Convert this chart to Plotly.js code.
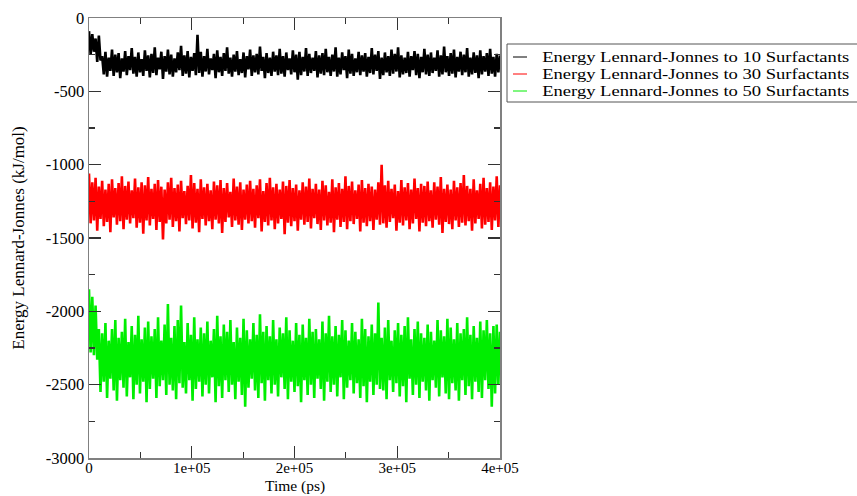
<!DOCTYPE html>
<html>
<head>
<meta charset="utf-8">
<script src="https://cdn.plot.ly/plotly-3.0.1.min.js"></script>
<style>
html,body{margin:0;padding:0;background:#fff;}
#chart{width:857px;height:496px;}
.annotation[data-index="0"] .annotation-text,
.annotation[data-index="1"] .annotation-text,
.annotation[data-index="2"] .annotation-text{transform:scaleX(1.24);transform-box:fill-box;transform-origin:0 50%;}
</style>
</head>
<body>
<div id="chart"></div>
<script>
// Sampling: time step of 1600 ps from 0 to 400000 ps
var timeStep = 1600;
var seriesNames = ["Energy Lennard-Jonnes to 10 Surfactants","Energy Lennard-Jonnes to 30 Surfactants","Energy Lennard-Jonnes to 50 Surfactants"];
var seriesColors = ["#000000","#ff0000","#00ee00"];
var xTickVals = [0,100000,200000,300000,400000];
var xTickText = ["0","1e+05","2e+05","3e+05","4e+05"];
var yTickVals = [0,-500,-1000,-1500,-2000,-2500,-3000];
var yTickText = ["0","-500","-1000","-1500","-2000","-2500","-3000"];
var xTitle = "Time (ps)";
var yTitle = "Energy Lennard-Jonnes (kJ/mol)";

var lj10 = [
-90,-250,-110,-230,-140,-300,-120,-290,
-260,-385,-230,-400,-270,-360,-215,-395,-250,-370,
-240,-410,-275,-365,-225,-390,-260,-355,-205,-380,
-265,-400,-235,-370,-280,-395,-220,-360,-255,-405,
-245,-375,-200,-390,-270,-350,-230,-415,-260,-365,
-215,-385,-250,-400,-275,-370,-235,-355,-190,-395,
-255,-380,-225,-405,-265,-360,-240,-390,-115,-375,
-230,-400,-260,-365,-210,-385,-275,-355,-245,-410,
-220,-370,-265,-395,-240,-360,-200,-380,-270,-400,
-250,-365,-225,-390,-280,-375,-235,-405,-260,-350,
-215,-395,-255,-370,-245,-385,-195,-360,-265,-410,
-240,-375,-270,-395,-230,-365,-255,-390,-210,-380,
-260,-400,-235,-355,-275,-385,-220,-370,-250,-420,
-230,-390,-265,-365,-205,-395,-245,-375,-270,-360,
-225,-405,-255,-380,-240,-390,-210,-370,-265,-395,
-250,-365,-200,-400,-270,-385,-235,-355,-260,-410,
-215,-380,-245,-395,-275,-370,-230,-390,-255,-365,
-240,-400,-265,-375,-205,-385,-250,-360,-225,-415,
-270,-390,-235,-370,-260,-395,-215,-380,-245,-365,
-200,-405,-255,-385,-270,-375,-230,-400,-260,-355,
-225,-390,-245,-410,-265,-370,-210,-385,-250,-395,
-235,-375,-270,-360,-220,-400,-255,-385,-195,-370,
-260,-395,-240,-380,-215,-405,-265,-365,-230,-390,
-250,-370,-205,-400,-270,-385,-235,-375,-255,-410,
-220,-385,-260,-365,-240,-395,-210,-380,-265,-400,
-245,-370,-255
];

var lj30 = [
-1060,-1400,-1120,-1380,-1090,-1450,-1150,-1370,-1110,-1420,
-1170,-1390,-1130,-1460,-1100,-1360,-1160,-1410,-1125,-1385,
-1080,-1440,-1145,-1375,-1115,-1400,-1175,-1365,-1095,-1430,
-1155,-1395,-1120,-1470,-1140,-1380,-1085,-1415,-1165,-1370,
-1130,-1445,-1105,-1390,-1150,-1510,-1170,-1400,-1120,-1375,
-1090,-1425,-1160,-1385,-1135,-1455,-1110,-1365,-1180,-1405,
-1145,-1380,-1070,-1435,-1125,-1395,-1165,-1460,-1100,-1370,
-1155,-1415,-1130,-1385,-1175,-1440,-1115,-1375,-1140,-1400,
-1105,-1465,-1160,-1390,-1125,-1360,-1185,-1425,-1095,-1380,
-1150,-1410,-1120,-1445,-1170,-1375,-1135,-1400,-1110,-1385,
-1165,-1430,-1140,-1365,-1100,-1455,-1180,-1390,-1125,-1415,
-1090,-1380,-1155,-1440,-1130,-1400,-1170,-1370,-1115,-1475,
-1145,-1395,-1105,-1420,-1160,-1385,-1135,-1450,-1175,-1375,
-1120,-1410,-1150,-1390,-1095,-1435,-1165,-1365,-1130,-1405,
-1170,-1445,-1110,-1380,-1140,-1415,-1185,-1395,-1100,-1460,
-1155,-1375,-1125,-1425,-1165,-1390,-1080,-1440,-1145,-1385,
-1115,-1405,-1175,-1370,-1135,-1455,-1105,-1395,-1160,-1420,
-1130,-1385,-1150,-1445,-1170,-1375,-1120,-1410,-1000,-1400,
-1140,-1430,-1110,-1390,-1165,-1365,-1135,-1450,-1180,-1395,
-1105,-1415,-1155,-1380,-1125,-1440,-1170,-1400,-1095,-1370,
-1160,-1455,-1130,-1395,-1145,-1420,-1115,-1385,-1175,-1430,
-1120,-1375,-1150,-1410,-1085,-1465,-1165,-1390,-1135,-1405,
-1170,-1440,-1110,-1380,-1155,-1425,-1125,-1395,-1070,-1415,
-1145,-1385,-1165,-1450,-1100,-1400,-1175,-1370,-1130,-1435,
-1090,-1410,-1160,-1390,-1120,-1445,-1150,-1380,-1080,-1425,
-1140
];

var lj50 = [
-1850,-2280,-1900,-2300,-1960,-2330,-2120,-2550,-2150,-2480,
-2080,-2590,-2200,-2460,-2120,-2540,-2060,-2610,-2180,-2470,
-2140,-2520,-2050,-2580,-2210,-2450,-2100,-2600,-2160,-2500,
-2030,-2560,-2190,-2480,-2110,-2620,-2070,-2530,-2170,-2460,
-2120,-2590,-2040,-2510,-2200,-2470,-2090,-2570,-1950,-2500,
-2180,-2540,-2100,-2600,-2060,-2490,-1960,-2520,-2210,-2560,
-2080,-2470,-2160,-2610,-2040,-2530,-2190,-2480,-2110,-2580,
-2150,-2500,-2070,-2560,-2200,-2450,-2120,-2620,-2030,-2510,
-2170,-2590,-2090,-2470,-2140,-2550,-2060,-2500,-2210,-2600,
-2110,-2480,-2180,-2570,-2050,-2650,-2130,-2520,-2190,-2460,
-2080,-2540,-2160,-2590,-2020,-2490,-2140,-2610,-2100,-2470,
-2170,-2560,-2060,-2500,-2190,-2580,-2110,-2450,-2150,-2530,
-2040,-2600,-2130,-2480,-2200,-2550,-2080,-2510,-2160,-2620,
-2090,-2470,-2180,-2570,-2050,-2500,-2140,-2590,-2120,-2460,
-2190,-2530,-2070,-2610,-2150,-2480,-2030,-2550,-2170,-2500,
-2100,-2580,-2160,-2450,-2060,-2600,-2130,-2520,-2200,-2470,
-2080,-2560,-2140,-2490,-2190,-2590,-2050,-2510,-2120,-2620,
-2170,-2480,-2090,-2570,-2150,-2500,-1940,-2530,-2180,-2540,
-2110,-2600,-2060,-2470,-2200,-2550,-2130,-2490,-2080,-2580,
-2160,-2510,-2100,-2620,-2040,-2460,-2190,-2570,-2120,-2500,
-2070,-2590,-2150,-2480,-2180,-2540,-2090,-2610,-2140,-2470,
-2200,-2520,-2060,-2580,-2130,-2450,-2170,-2560,-2050,-2600,
-2110,-2490,-2190,-2540,-2080,-2610,-2150,-2470,-2120,-2570,
-2040,-2510,-2160,-2600,-2100,-2480,-2180,-2550,-2070,-2590,
-2130,-2470,-2060,-2530,-2150,-2650,-2100,-2560,-2090,-2500,
-2140
];

function times(n){ var t=[]; for(var i=0;i<n;i++){ t.push(i*timeStep); } return t; }

var allSeries = [lj10, lj30, lj50];
var traces = allSeries.map(function(vals, k){
  return {
    x: times(vals.length), y: vals, type: 'scatter', mode: 'lines',
    name: seriesNames[k], showlegend: false,
    line: {color: seriesColors[k], width: 2.6},
    hoverinfo: 'skip'
  };
});

var fontFam = '"Liberation Serif", "Times New Roman", serif';
var axisCommon = {
  showline: true, linecolor: '#808080', linewidth: 1.5, mirror: 'ticks',
  ticks: 'inside', ticklen: 12, tickwidth: 1.2, tickcolor: '#333',
  showgrid: false, zeroline: false
};

// Legend box drawn in paper space (plot area spans 89..500 px horizontally, 18..458 px vertically)
var px2x = function(p){ return (p - 89) / 411; };
var px2y = function(p){ return (458 - p) / 440; };
var legendRowsPx = [57, 74, 91];

var shapes = [{
  type: 'rect', xref: 'paper', yref: 'paper',
  x0: px2x(507), x1: px2x(900), y0: px2y(102), y1: px2y(44),
  line: {color: '#555', width: 1}, fillcolor: 'rgba(0,0,0,0)'
}];
var annotations = [];
seriesNames.forEach(function(nm, k){
  shapes.push({type: 'line', xref: 'paper', yref: 'paper',
    x0: px2x(513), x1: px2x(527), y0: px2y(legendRowsPx[k]), y1: px2y(legendRowsPx[k]),
    line: {color: seriesColors[k], width: 1}});
  annotations.push({xref: 'paper', yref: 'paper', x: px2x(541), y: px2y(legendRowsPx[k]),
    xanchor: 'left', yanchor: 'middle', showarrow: false, text: nm, borderpad: 0,
    font: {family: fontFam, size: 15, color: '#000'}});
});
// x-axis title, placed just under the tick labels
annotations.push({xref: 'paper', yref: 'paper', x: px2x(295), y: px2y(495.5),
  xanchor: 'center', yanchor: 'bottom', showarrow: false, text: xTitle, borderpad: 0,
  font: {family: fontFam, size: 15.5, color: '#000'}});

var layout = {
  width: 857, height: 496,
  paper_bgcolor: '#fff', plot_bgcolor: '#fff',
  margin: {l: 89, r: 357, t: 18, b: 38},
  showlegend: false,
  shapes: shapes, annotations: annotations,
  xaxis: Object.assign({}, axisCommon, {
    range: [0, 400000], tickmode: 'array', tickvals: xTickVals, ticktext: xTickText,
    tickfont: {family: fontFam, size: 15, color: '#000'},
    ticklabelstandoff: -5,
    minor: {dtick: 50000, ticklen: 6, tickwidth: 1.2, tickcolor: '#333', ticks: 'inside'}
  }),
  yaxis: Object.assign({}, axisCommon, {
    range: [-3000, 0], tickmode: 'array', tickvals: yTickVals, ticktext: yTickText,
    tickfont: {family: fontFam, size: 16.5, color: '#000'},
    minor: {dtick: 250, ticklen: 6, tickwidth: 1.2, tickcolor: '#333', ticks: 'inside'},
    title: {text: yTitle, font: {family: fontFam, size: 17, color: '#000'}, standoff: 17}
  })
};

Plotly.newPlot('chart', traces, layout, {staticPlot: true, displayModeBar: false});
</script>
</body>
</html>
